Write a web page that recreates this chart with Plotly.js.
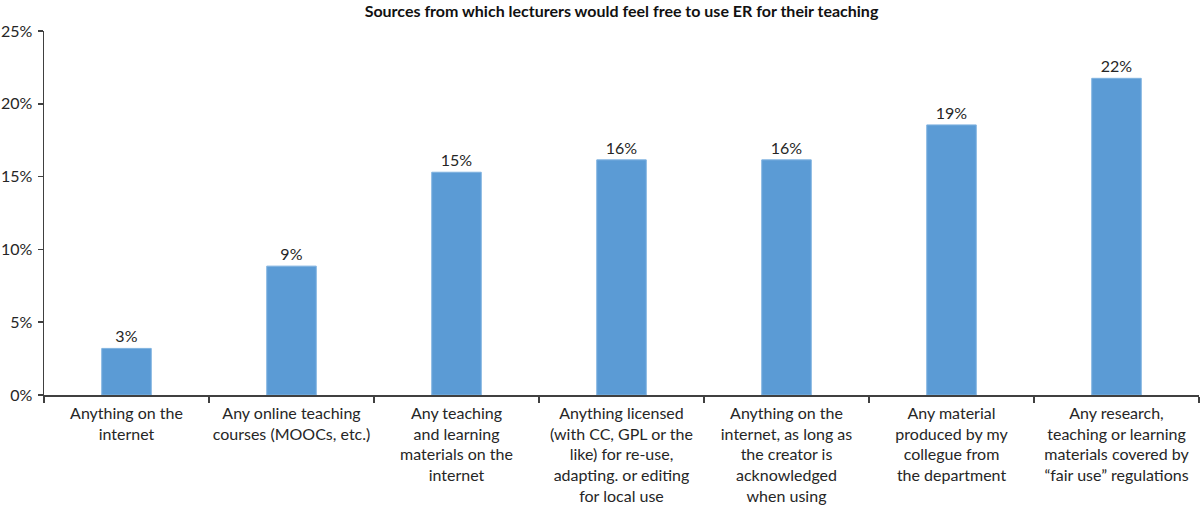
<!DOCTYPE html>
<html>
<head>
<meta charset="utf-8">
<script src="https://cdn.plot.ly/plotly-3.0.1.min.js"></script>
<style>
  html, body { margin: 0; padding: 0; background: #fff; }
  #chart { width: 1200px; height: 511px; }
</style>
</head>
<body>
<div id="chart"></div>
<script>
'use strict';

const categories = [
  'Anything on the<br>internet',
  'Any online teaching<br>courses (MOOCs, etc.)',
  'Any teaching<br>and learning<br>materials on the<br>internet',
  'Anything licensed<br>(with CC, GPL or the<br>like) for re-use,<br>adapting. or editing<br>for local use',
  'Anything on the<br>internet, as long as<br>the creator is<br>acknowledged<br>when using',
  'Any material<br>produced by my<br>collegue from<br>the department',
  'Any research,<br>teaching or learning<br>materials covered by<br>\u201Cfair use\u201D regulations'
];

const shares = [0.032, 0.0885, 0.153, 0.1615, 0.1615, 0.1855, 0.2175];

const yTicks = [0, 0.05, 0.10, 0.15, 0.20, 0.25];

const FONT = 'Lato, "Open Sans", sans-serif';
const INK = '#262626';

const data = [{
  type: 'bar',
  x: categories,
  y: shares,
  marker: { color: '#5B9BD5', line: { color: '#7fb2e0', width: 1 } },
  texttemplate: '%{y:.0%}',
  textposition: 'outside',
  cliponaxis: false,
  textfont: { family: FONT, size: 16, color: INK },
  hoverinfo: 'none'
}];

const layout = {
  width: 1200,
  height: 511,
  margin: { l: 44, r: 1, t: 31, b: 116 },
  paper_bgcolor: '#fff',
  plot_bgcolor: '#fff',
  showlegend: false,
  bargap: 0.70,
  font: { family: FONT, size: 16, color: INK },
  title: {
    text: '<b>Sources from which lecturers would feel free to use ER for their teaching</b>',
    font: { family: FONT, size: 16, color: '#111' },
    x: 0.5,
    xref: 'paper',
    y: 0.988,
    yref: 'container',
    yanchor: 'top'
  },
  xaxis: {
    type: 'category',
    showline: true,
    linecolor: '#404040',
    linewidth: 1.5,
    ticks: 'outside',
    tickson: 'boundaries',
    ticklen: 6,
    tickcolor: '#404040',
    tickwidth: 1.5,
    tickangle: 0,
    ticklabelstandoff: 3,
    showgrid: false,
    tickfont: { family: FONT, size: 16, color: INK },
    automargin: false
  },
  yaxis: {
    range: [0, 0.25],
    tickvals: yTicks,
    tickformat: '.0%',
    showline: true,
    linecolor: '#404040',
    linewidth: 1.5,
    ticks: 'outside',
    ticklen: 5,
    tickcolor: '#404040',
    tickwidth: 1.5,
    ticklabelstandoff: 2,
    showgrid: false,
    zeroline: false,
    tickfont: { family: FONT, size: 16, color: INK },
    automargin: false
  }
};

Plotly.newPlot('chart', data, layout, { displayModeBar: false, staticPlot: true });
</script>
</body>
</html>
